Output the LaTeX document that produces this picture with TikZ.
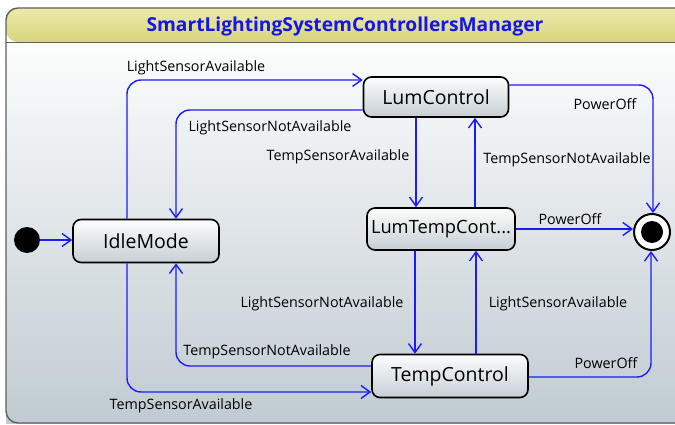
\documentclass[tikz,border=0pt]{standalone}
\usepackage{fontspec}
\setmainfont{Open Sans}
\usetikzlibrary{arrows.meta}
\definecolor{edgeblue}{RGB}{28,28,250}
\definecolor{titleblue}{RGB}{20,20,235}
\definecolor{bandtop}{RGB}{236,235,172}
\definecolor{bandbot}{RGB}{214,212,124}
\definecolor{bodytop}{RGB}{252,253,253}
\definecolor{bodybot}{RGB}{192,203,210}
\definecolor{statetop}{RGB}{252,253,253}
\definecolor{statebot}{RGB}{198,207,213}
\definecolor{framegray}{RGB}{95,95,95}
\tikzset{
  statebox/.style={draw=black, line width=1.6pt, rounded corners=8pt,
    top color=statetop, bottom color=statebot, inner sep=0pt,
    font=\fontsize{19.5}{21}\selectfont},
  trans/.style={draw=edgeblue, line width=1.4pt, rounded corners=14pt,
    -{Straight Barb[length=9pt,width=13pt,line width=1.4pt]}},
  lbl/.style={font=\fontsize{14.3}{16}\selectfont, inner sep=0pt, text=black},
}
\begin{document}
\begin{tikzpicture}[x=1pt,y=-1pt]
\useasboundingbox (0,0) rectangle (675,425);
\begin{scope}
  \clip (0,0) rectangle (675,425);
  % diagram frame: title band and body
  \path[top color=bodytop, bottom color=bodybot]
    (6,42) rectangle (700,423);
  \path[top color=bandtop, bottom color=bandbot, rounded corners=12pt]
    (6,42) -- (6,8) -- (700,8) -- (700,42) -- cycle;
  \draw[framegray, line width=0.8pt] (6,42) -- (700,42);
  \draw[framegray, line width=1.4pt, rounded corners=12pt]
    (700,423) -- (6,423) -- (6,8) -- (700,8);
\end{scope}
\node[font=\fontsize{19.2}{21}\selectfont\bfseries, text=titleblue, inner sep=0pt]
  (title) at (345,27) {SmartLightingSystemControllersManager};

% states
\node[circle, fill=black, minimum size=26pt, inner sep=0pt] (init) at (27,240) {};
\node[statebox, minimum width=146pt, minimum height=43pt] (idle) at (146,241) {IdleMode};
\node[statebox, minimum width=145pt, minimum height=40pt] (lum) at (436,97) {LumControl};
\node[statebox, minimum width=148pt, minimum height=42pt,
  font=\fontsize{18.3}{20}\selectfont] (lumtemp) at (441,229) {LumTempCont...};
\node[statebox, minimum width=156pt, minimum height=43pt] (temp) at (450,376) {TempControl};
\node[circle, draw=black, line width=2pt, fill=white, minimum size=36pt, inner sep=0pt] (final) at (652,232) {};
\node[circle, fill=black, minimum size=22pt, inner sep=0pt] (finaldot) at (final.center) {};

% transitions
\draw[trans] (init.east) -- (init.east -| idle.west);
\draw[trans] ([xshift=-19pt]idle.north) |- ([yshift=17pt]lum.west);
\draw[trans] ([yshift=-13pt]lum.west) -| ([xshift=30pt]idle.north);
\draw[trans] ([xshift=-20pt]lum.south) -- ([xshift=-20pt]lum.south |- lumtemp.north);
\draw[trans] ([xshift=39pt]lum.south |- lumtemp.north) -- ([xshift=39pt]lum.south);
\draw[trans] ([yshift=12pt]lum.east) -| ([xshift=1pt]final.north);
\draw[trans] (lumtemp.east) -- (lumtemp.east -| final.west);
\draw[trans] ([xshift=-26pt]lumtemp.south) -- ([xshift=-26pt]lumtemp.south |- temp.north);
\draw[trans] ([xshift=35pt]lumtemp.south |- temp.north) -- ([xshift=35pt]lumtemp.south);
\draw[trans] ([yshift=10pt]temp.west) -| ([xshift=30pt]idle.south);
\draw[trans] ([xshift=-19pt]idle.south) |- ([yshift=-16pt]temp.west);
\draw[trans] ([yshift=-1pt]temp.east) -| ([xshift=-1pt]final.south);

% transition labels
\node[lbl] (t1) at (196,68) {LightSensorAvailable};
\node[lbl] (t2) at (270,128) {LightSensorNotAvailable};
\node[lbl] (t3) at (338,157) {TempSensorAvailable};
\node[lbl] (t4) at (567,160) {TempSensorNotAvailable};
\node[lbl] (t5) at (605,104) {PowerOff};
\node[lbl] (t6) at (570,219) {PowerOff};
\node[lbl] (t7) at (322,304) {LightSensorNotAvailable};
\node[lbl] (t8) at (558,304) {LightSensorAvailable};
\node[lbl] (t9) at (267,352) {TempSensorNotAvailable};
\node[lbl] (t10) at (181,406) {TempSensorAvailable};
\node[lbl] (t11) at (606,363) {PowerOff};
\end{tikzpicture}
\end{document}
